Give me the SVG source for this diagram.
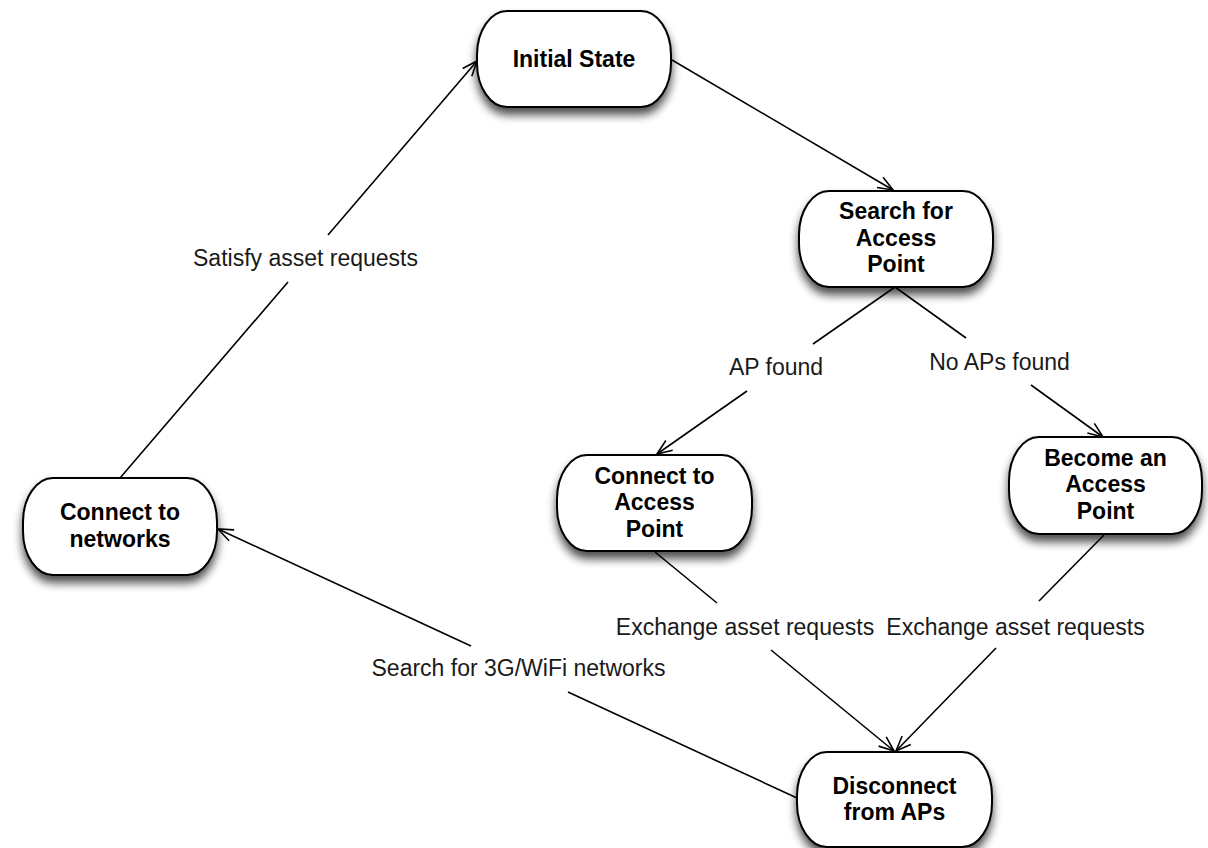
<svg xmlns="http://www.w3.org/2000/svg" width="1208" height="848" viewBox="0 0 1208 848">
<style>
.node rect{fill:#fff;stroke:#000;stroke-width:2;filter:url(#sh)}
.node text{font-family:"Liberation Sans",Arial,sans-serif;font-weight:bold;font-size:23px;fill:#000;text-anchor:middle}
.edge{fill:none;stroke:#000;stroke-width:1.6;marker-end:url(#arr)}
.lbl{font-family:"Liberation Sans",Arial,sans-serif;font-size:23px;fill:#1a1a1a;text-anchor:middle}
</style>
<defs>
<filter id="sh" x="-20%" y="-20%" width="140%" height="160%">
<feGaussianBlur in="SourceAlpha" stdDeviation="5"/>
<feOffset dx="0" dy="7" result="b"/>
<feComponentTransfer><feFuncA type="linear" slope="0.7"/></feComponentTransfer>
<feMerge><feMergeNode/><feMergeNode in="SourceGraphic"/></feMerge>
</filter>
<marker id="arr" markerUnits="userSpaceOnUse" markerWidth="20" markerHeight="20" refX="16" refY="7" orient="auto" viewBox="0 0 20 14">
<path d="M1,1 L16,7 L1,13" fill="none" stroke="#000" stroke-width="1.6"/>
</marker>
</defs>
<rect width="1208" height="848" fill="#fff"/>
<g id="connectors">
<path class="edge" d="M672,60 L893,190"/>
<path class="edge" d="M120,478 L288,282 M328,235 L477,61"/>
<path class="edge" d="M895,287 L813,344 M747,391 L657,454"/>
<path class="edge" d="M895,287 L966,338 M1031,385 L1103,437"/>
<path class="edge" d="M655,552 L717,603 M771,650 L894,751"/>
<path class="edge" d="M1104,535 L1039,601 M996,648 L896,751"/>
<path class="edge" d="M797,798 L568,692 M471,646 L218,529"/>
<text class="lbl" x="305.5" y="266">Satisfy asset requests</text>
<text class="lbl" x="776" y="375">AP found</text>
<text class="lbl" x="999.5" y="370">No APs found</text>
<text class="lbl" x="745" y="635">Exchange asset requests</text>
<text class="lbl" x="1015.5" y="635">Exchange asset requests</text>
<text class="lbl" x="518.5" y="676">Search for 3G/WiFi networks</text>
</g>
<g id="initial" class="node">
<rect x="477" y="11" width="194" height="96" rx="30" ry="44"/>
<text x="574" y="67">Initial State</text>
</g>
<g id="search" class="node">
<rect x="799" y="191" width="194" height="96" rx="30" ry="44"/>
<text x="896" y="219">Search for</text>
<text x="896" y="245.5">Access</text>
<text x="896" y="272">Point</text>
</g>
<g id="connectap" class="node">
<rect x="557" y="455" width="195" height="96" rx="30" ry="44"/>
<text x="654.5" y="483.5">Connect to</text>
<text x="654.5" y="510">Access</text>
<text x="654.5" y="536.5">Point</text>
</g>
<g id="become" class="node">
<rect x="1009" y="437" width="193" height="97" rx="30" ry="44"/>
<text x="1105.5" y="465.5">Become an</text>
<text x="1105.5" y="492">Access</text>
<text x="1105.5" y="518.5">Point</text>
</g>
<g id="networks" class="node">
<rect x="23" y="478" width="194" height="97" rx="30" ry="44"/>
<text x="120" y="520">Connect to</text>
<text x="120" y="546.5">networks</text>
</g>
<g id="disconnect" class="node">
<rect x="797" y="752" width="195" height="95" rx="30" ry="44"/>
<text x="894.5" y="793.5">Disconnect</text>
<text x="894.5" y="820">from APs</text>
</g>
</svg>
